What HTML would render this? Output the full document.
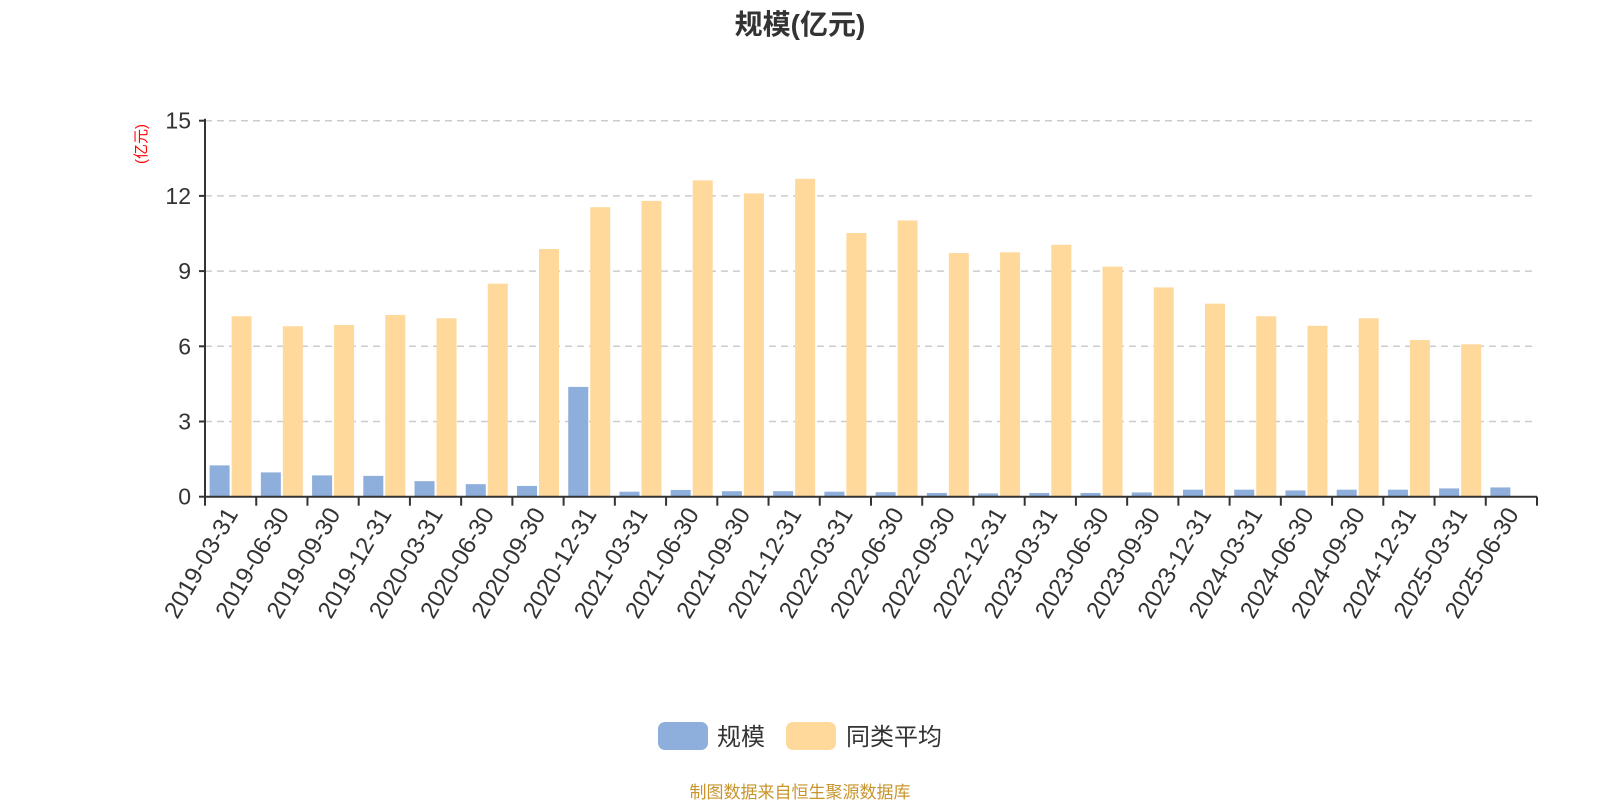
<!DOCTYPE html>
<html><head><meta charset="utf-8"><style>
body{margin:0;background:#fff;}
svg text{font-family:"Liberation Sans","Noto Sans CJK SC",sans-serif;}
</style></head><body>
<svg width="1600" height="800" viewBox="0 0 1600 800">
<text x="800" y="34" text-anchor="middle" font-size="28" font-weight="bold" fill="#333">规模(亿元)</text>
<text transform="translate(146,144) rotate(-90)" text-anchor="middle" font-size="15" fill="#f00">(亿元)</text>
<g id="grid"></g>
<g id="bars"></g>
<g id="axes"></g>
<g>
<rect x="658" y="722" width="50" height="28" rx="7" fill="#8eaedb"/>
<text x="717" y="745" font-size="24" fill="#333">规模</text>
<rect x="786" y="722" width="50" height="28" rx="7" fill="#ffd99b"/>
<text x="846" y="745" font-size="24" fill="#333">同类平均</text>
</g>
<text x="800" y="798" text-anchor="middle" font-size="17" fill="#c8952c">制图数据来自恒生聚源数据库</text>
</svg>
<script>
const categories=["2019-03-31","2019-06-30","2019-09-30","2019-12-31","2020-03-31","2020-06-30","2020-09-30","2020-12-31","2021-03-31","2021-06-30","2021-09-30","2021-12-31","2022-03-31","2022-06-30","2022-09-30","2022-12-31","2023-03-31","2023-06-30","2023-09-30","2023-12-31","2024-03-31","2024-06-30","2024-09-30","2024-12-31","2025-03-31","2025-06-30"];
const scaleValues=[1.25,0.97,0.85,0.83,0.62,0.5,0.43,4.38,0.2,0.27,0.22,0.22,0.2,0.18,0.15,0.13,0.15,0.15,0.17,0.28,0.28,0.25,0.28,0.28,0.33,0.37];
const averageValues=[7.2,6.8,6.85,7.25,7.12,8.5,9.88,11.55,11.8,12.62,12.1,12.68,10.52,11.02,9.72,9.75,10.05,9.18,8.35,7.7,7.2,6.82,7.12,6.25,6.08,null];
const yTicks=[0,3,6,9,12,15];
const NS="http://www.w3.org/2000/svg";
const X0=205,X1=1537,Y0=496.7,Y1=120.7,YMAX=15;
const band=(X1-X0)/categories.length;
const y=v=>Y0-(v/YMAX)*(Y0-Y1);
const xb=i=>X0+i*band;
function mk(t,a,p){const e=document.createElementNS(NS,t);for(const k in a)e.setAttribute(k,a[k]);p.appendChild(e);return e;}
const grid=document.getElementById('grid'),bars=document.getElementById('bars'),axes=document.getElementById('axes');
yTicks.forEach(t=>{
  if(t>0){const l=mk('line',{x1:X0,x2:X1,y1:y(t),y2:y(t),stroke:'#ccc','stroke-width':1.5,'stroke-dasharray':'7,5'},grid);
  
  }
  const tk=mk('line',{x1:X0-6,x2:X0,y1:y(t),y2:y(t),stroke:'#333','stroke-width':2},axes);
  
  
  const tx=mk('text',{x:X0-14,y:y(t)+8,'text-anchor':'end','font-size':23,fill:'#333'},axes);
  tx.textContent=t;
  
  
});
const bw=20,off=(band-42)/2;
categories.forEach((c,i)=>{
  const v=scaleValues[i];
  if(v!=null){const r=mk('rect',{x:xb(i)+off,y:y(v),width:bw,height:Y0-y(v),fill:'#8eaedb'},bars);
  
  }
  const a=averageValues[i];
  if(a!=null){const r=mk('rect',{x:xb(i)+off+bw+2,y:y(a),width:bw,height:Y0-y(a),fill:'#ffd99b'},bars);
  
  }
  const cx=xb(i)+band/2;
  const t=mk('text',{transform:`translate(${cx+8},${Y0+17}) rotate(-60)`,'text-anchor':'end','font-size':24,fill:'#333'},axes);
  t.textContent=c;
  
  
});
for(let i=0;i<=categories.length;i++){
  const tk=mk('line',{x1:xb(i),x2:xb(i),y1:Y0,y2:Y0+9,stroke:'#333','stroke-width':2},axes);
  
  
}
const ya=mk('line',{x1:X0,x2:X0,y1:Y1-2,y2:Y0,stroke:'#333','stroke-width':2},axes);


const xa=mk('line',{x1:X0,x2:X1,y1:Y0,y2:Y0,stroke:'#333','stroke-width':2},axes);


</script>
</body></html>
